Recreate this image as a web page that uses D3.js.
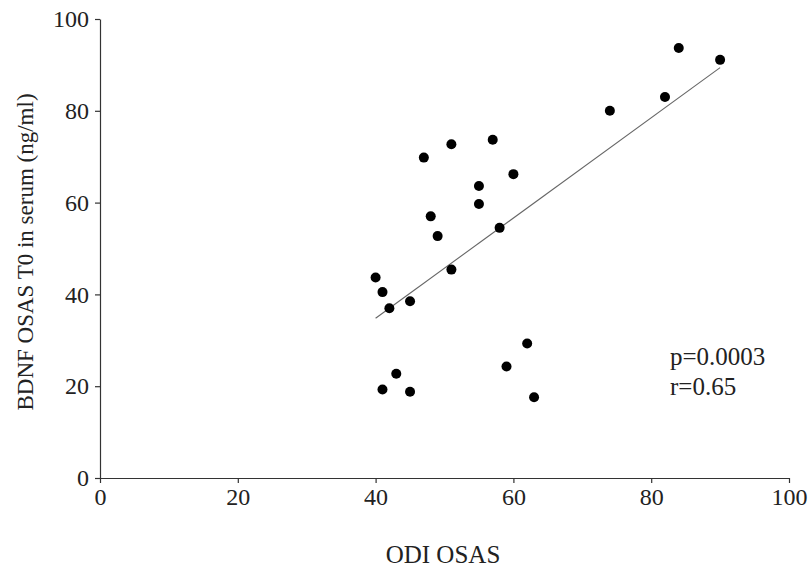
<!DOCTYPE html>
<html>
<head>
<meta charset="utf-8">
<script src="https://cdn.jsdelivr.net/npm/d3@7"></script>
<style>
  body { margin: 0; background: #fff; }
  svg text { font-family: "Liberation Serif", "Times New Roman", serif; fill: #222; }
</style>
</head>
<body>
<div id="chart"></div>
<script>
// ODI OSAS vs BDNF in serum
const odi = [40, 41, 42, 45, 47, 48, 49, 51, 51, 55, 55, 57, 58, 60, 74, 82, 84, 90, 41, 43, 45, 59, 62, 63]
const bdnf = [43.7, 40.5, 37.0, 38.5, 69.8, 57.0, 52.7, 72.7, 45.4, 63.6, 59.7, 73.7, 54.5, 66.2, 80.0, 83.0, 93.7, 91.1, 19.3, 22.7, 18.8, 24.3, 29.3, 17.6]
// regression line ends
const fitX = [40, 90]
const fitY = [34.8, 89.4]
const xTicks = [0, 20, 40, 60, 80, 100]
const yTicks = [0, 20, 40, 60, 80, 100]
const notes = ['p=0.0003', 'r=0.65']

const W = 810, H = 567
const margin = { top: 19, right: 21, bottom: 89, left: 100 }
const width = W - margin.left - margin.right
const height = H - margin.top - margin.bottom

const svg = d3.select('#chart')
    .append('svg')
    .attr('width', W)
    .attr('height', H)
    .append('g')
    .attr('transform', `translate(${margin.left}, ${margin.top})`)

let x = d3.scaleLinear().domain([0, 100]).range([0, width])
let y = d3.scaleLinear().domain([0, 100]).range([height, 0])

// axes
let bottomAxis = d3.axisBottom(x).tickValues(xTicks).tickSize(5).tickSizeOuter(0).tickPadding(5)
let leftAxis = d3.axisLeft(y).tickValues(yTicks).tickSize(5).tickSizeOuter(0).tickPadding(6)

const gx = svg.append('g')
    .attr('transform', `translate(0, ${height})`)
    .call(bottomAxis)
const gy = svg.append('g').call(leftAxis)

for (const g of [gx, gy]) {
    g.selectAll('path, line').attr('stroke', '#333').attr('stroke-width', 1.2)
    g.selectAll('text').style('font-size', '24px').attr('fill', '#222')
}

// axis titles
svg.append('text')
    .attr('x', 343)
    .attr('y', height + 85)
    .attr('text-anchor', 'middle')
    .style('font-size', '25px')
    .text('ODI OSAS')

svg.append('text')
    .attr('x', -(252 - margin.top))
    .attr('y', -67)
    .attr('text-anchor', 'middle')
    .attr('transform', 'rotate(-90)')
    .style('font-size', '23px')
    .text('BDNF OSAS T0 in serum (ng/ml)')

// fit line
svg.append('line')
    .attr('x1', x(fitX[0]))
    .attr('y1', y(fitY[0]))
    .attr('x2', x(fitX[1]))
    .attr('y2', y(fitY[1]))
    .attr('stroke', '#666')
    .attr('stroke-width', 1.1)

// points
svg.selectAll('circle')
    .data(odi.map((d, i) => ({ x: d, y: bdnf[i] })))
    .enter()
    .append('circle')
    .attr('cx', d => x(d.x))
    .attr('cy', d => y(d.y))
    .attr('r', 5)
    .attr('fill', '#000')

// stats
svg.selectAll('.note')
    .data(notes)
    .enter()
    .append('text')
    .attr('class', 'note')
    .attr('x', 570)
    .attr('y', (d, i) => 346 + i * 30)
    .style('font-size', '25px')
    .text(d => d)
</script>
</body>
</html>
